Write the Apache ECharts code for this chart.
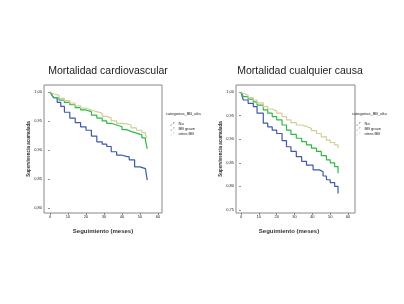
<!DOCTYPE html>
<html><head><meta charset="utf-8">
<script src="https://cdn.jsdelivr.net/npm/echarts@6/dist/echarts.min.js"></script>
<style>html,body{margin:0;padding:0;background:#fff}#c{width:404px;height:304px}</style>
</head><body><div id="c"></div>
<script>
const titles = ['Mortalidad cardiovascular', 'Mortalidad cualquier causa'];
const seriesNames = ['No', 'BB grave', 'otros BB'];
const legendTitle = 'categorias_BB_alta';
const xTicks = [0, 10, 20, 30, 40, 50, 60];
const yTicksLeft = [0.80, 0.85, 0.90, 0.95, 1.00];
const yTicksRight = [0.75, 0.80, 0.85, 0.90, 0.95, 1.00];
const xTitle = 'Seguimiento (meses)';
const yTitle = 'Supervivencia acumulada';

// Left chart (cardiovascular)
const cvNo = [[0,1],[1,0.995],[2,0.99],[4,0.982],[6,0.975],[8,0.965],[11,0.955],[14,0.947],[17,0.94],[20,0.934],[23,0.924],[26,0.914],[29,0.91],[31.5,0.906],[34,0.897],[37,0.891],[40,0.889],[42.5,0.888],[44,0.883],[47,0.871],[50,0.868],[53,0.866],[54,0.848]];
const cvGrave = [[0,1],[1,0.996],[2,0.99],[5,0.986],[8,0.982],[11,0.978],[14,0.973],[17,0.969],[20,0.966],[23,0.96],[26,0.955],[29,0.95],[31.5,0.946],[34,0.943],[37,0.94],[40,0.935],[42.5,0.932],[45,0.929],[48,0.926],[51,0.921],[53,0.917],[54,0.902]];
const cvOtros = [[0,1],[1,0.997],[2,0.994],[5,0.989],[8,0.985],[11,0.981],[14,0.976],[17,0.972],[20,0.969],[23,0.966],[26,0.963],[29,0.958],[31.5,0.955],[34,0.95],[37,0.946],[40,0.945],[42.5,0.943],[45,0.938],[48,0.934],[51,0.93],[53,0.926],[54,0.921]];

// Right chart (all-cause)
const acNo = [[0,1],[0.7,0.99],[1.3,0.983],[4,0.976],[6.9,0.969],[9,0.955],[12.5,0.934],[15,0.926],[17.5,0.919],[20,0.912],[23,0.897],[25.5,0.884],[28,0.874],[31,0.863],[34,0.853],[36.7,0.845],[40.4,0.835],[44,0.831],[46,0.822],[47.9,0.814],[50,0.808],[52.5,0.8],[54.4,0.785]];
const acGrave = [[0,1],[0.7,0.995],[1.3,0.99],[4,0.985],[6.9,0.979],[9,0.972],[12.5,0.962],[15,0.955],[17.5,0.948],[20,0.941],[23,0.93],[25.5,0.919],[28,0.91],[31,0.902],[34,0.895],[36.7,0.888],[39.5,0.881],[42.3,0.874],[45,0.865],[47.9,0.856],[50,0.85],[52.5,0.842],[54.4,0.828]];
const acOtros = [[0,1],[0.7,0.997],[1.3,0.993],[4,0.988],[6.9,0.983],[9,0.977],[12.5,0.969],[15,0.964],[17.5,0.96],[20,0.955],[23,0.948],[25.5,0.941],[28,0.935],[31,0.93],[34,0.927],[36.7,0.923],[39.5,0.918],[42.3,0.912],[45,0.905],[47.9,0.898],[50,0.893],[52.5,0.888],[54.4,0.881]];

const colors = ['#3e58ac', '#2eb848', '#d3ce97'];
const chart = echarts.init(document.getElementById('c'), null, {renderer: 'canvas'});
const fmt = v => v.toFixed(2).replace('.', ',');
const lbl = {fontSize: 4, color: '#222', fontFamily: 'Liberation Sans', margin: 2};
const tick = {show: true, length: 2, lineStyle: {color: '#444', width: 0.6}};

function xAx(idx, min, max) {
  return {type: 'value', gridIndex: idx, min, max,
    axisLine: {show: false}, splitLine: {show: false},
    axisTick: Object.assign({customValues: xTicks}, tick),
    axisLabel: Object.assign({customValues: xTicks, formatter: v => String(v)}, lbl)};
}
function yAx(idx, min, max, ticks) {
  return {type: 'value', gridIndex: idx, min, max,
    axisLine: {show: false}, splitLine: {show: false},
    axisTick: Object.assign({customValues: ticks}, tick),
    axisLabel: Object.assign({customValues: ticks, formatter: fmt}, lbl)};
}
function ser(name, data, i, gi) {
  return {name, type: 'line', step: 'end', data, xAxisIndex: gi, yAxisIndex: gi,
    showSymbol: false, symbol: 'none', lineStyle: {width: 1.2, color: colors[i]}, itemStyle: {color: colors[i]},
    silent: true, animation: false};
}
const legendCommon = {orient: 'vertical', itemWidth: 8, itemHeight: 3, itemGap: 1,
  textStyle: {fontSize: 4, color: '#222', fontFamily: 'Liberation Sans', padding: [0,0,0,-3]},
  icon: 'path://M0,6 L3,6 L3,3 L6,3 L6,0 L10,0', data: seriesNames};
const titleStyle = {fontSize: 10.5, fontWeight: 'normal', color: '#222', fontFamily: 'Liberation Sans'};

chart.setOption({
  animation: false,
  backgroundColor: '#fff',
  color: colors,
  title: [
    {text: titles[0], left: 103, top: 61, textAlign: 'center', textStyle: titleStyle},
    {text: titles[1], left: 295, top: 61, textAlign: 'center', textStyle: titleStyle}
  ],
  grid: [
    {left: 44, top: 85, width: 118, height: 128, show: true, borderColor: '#888', borderWidth: 1, backgroundColor: '#fff'},
    {left: 236, top: 85, width: 119, height: 128, show: true, borderColor: '#888', borderWidth: 1, backgroundColor: '#fff'}
  ],
  xAxis: [xAx(0, -3.33, 62.2), xAx(1, -2.8, 63.9)],
  yAxis: [yAx(0, 0.7914, 1.012, yTicksLeft), yAx(1, 0.7436, 1.0148, yTicksRight)],
  legend: [
    Object.assign({left: 165, top: 117}, legendCommon),
    Object.assign({left: 351, top: 117}, legendCommon)
  ],
  graphic: [
    {type: 'text', left: 166, top: 112, style: {text: legendTitle, fontSize: 4, fill: '#222', fontFamily: 'Liberation Sans'}},
    {type: 'text', left: 352, top: 112, style: {text: legendTitle, fontSize: 4, fill: '#222', fontFamily: 'Liberation Sans'}},
    {type: 'text', x: 103, y: 231, style: {text: xTitle, fontSize: 6, fontWeight: 'bold', fill: '#333', fontFamily: 'Liberation Sans', align: 'center', verticalAlign: 'middle'}},
    {type: 'text', x: 289, y: 231, style: {text: xTitle, fontSize: 6, fontWeight: 'bold', fill: '#333', fontFamily: 'Liberation Sans', align: 'center', verticalAlign: 'middle'}},
    {type: 'text', x: 29, y: 149, rotation: Math.PI / 2, style: {text: yTitle, fontSize: 4.5, fontWeight: 'bold', fill: '#333', fontFamily: 'Liberation Sans', align: 'center', verticalAlign: 'middle'}},
    {type: 'text', x: 221, y: 149, rotation: Math.PI / 2, style: {text: yTitle, fontSize: 4.5, fontWeight: 'bold', fill: '#333', fontFamily: 'Liberation Sans', align: 'center', verticalAlign: 'middle'}}
  ],
  series: [
    ser(seriesNames[0], cvNo, 0, 0), ser(seriesNames[1], cvGrave, 1, 0), ser(seriesNames[2], cvOtros, 2, 0),
    ser(seriesNames[0], acNo, 0, 1), ser(seriesNames[1], acGrave, 1, 1), ser(seriesNames[2], acOtros, 2, 1)
  ]
});
</script></body></html>
